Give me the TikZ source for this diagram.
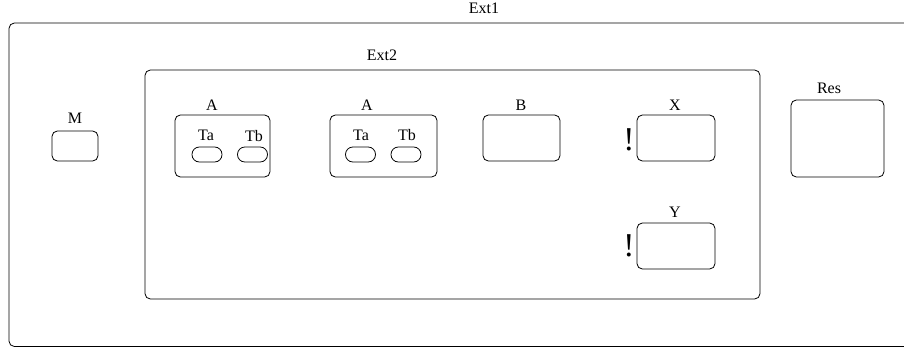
\documentclass[tikz,border=0pt]{standalone}
\usepackage{fontspec}
\setmainfont{Liberation Serif}
\usetikzlibrary{positioning}

\begin{document}
\begin{tikzpicture}[x=0.75pt, y=-0.75pt, line width=0.6pt]
            % Estilos
            \tikzstyle{caixa}=[draw, rectangle, rounded corners=4pt, inner sep=0pt]
            \tikzstyle{oval}=[draw, rectangle, rounded corners=5.5pt, inner sep=0pt, minimum width=22.5pt, minimum height=11.25pt]
            \tikzstyle{rotulo}=[inner sep=0pt, font=\fontsize{12}{14}\selectfont]
            \tikzstyle{excl}=[inner sep=0pt, font=\fontsize{25}{25}\selectfont]

            \useasboundingbox (0,0) rectangle (904,350);
            \clip (0,0) rectangle (904,350);

            % Caixas externas
            \node[caixa, minimum width=677.25pt, minimum height=242.6pt] (ext1) at (460.5,184.75) {};
            \node[rotulo] (lext1) at (484,8) {Ext1};
            \node[caixa, minimum width=461.25pt, minimum height=171.75pt] (ext2) at (452.5,184.5) {};
            \node[rotulo] (lext2) at (382,55) {Ext2};

            % M
            \node[caixa, minimum width=34.5pt, minimum height=22.5pt] (m) at (75,146) {};
            \node[rotulo] (lm) at (75,118) {M};

            % Primeiro A
            \node[caixa, minimum width=71.25pt, minimum height=46.5pt] (a1) at (222.5,146) {};
            \node[rotulo] (la1) at (212,105) {A};
            \node[oval] (ta1) at (207,154.5) {};
            \node[oval] (tb1) at (252.5,154.5) {};
            \node[rotulo] (lta1) at (206,135) {Ta};
            \node[rotulo] (ltb1) at (254,136) {Tb};

            % Segundo A
            \node[caixa, minimum width=80.25pt, minimum height=46.5pt] (a2) at (383.5,146) {};
            \node[rotulo] (la2) at (367,105) {A};
            \node[oval] (ta2) at (360.5,154.5) {};
            \node[oval] (tb2) at (406,154.5) {};
            \node[rotulo] (lta2) at (361,135) {Ta};
            \node[rotulo] (ltb2) at (407,135) {Tb};

            % B, X, Y
            \node[caixa, minimum width=57.75pt, minimum height=34.5pt] (b) at (521.5,138) {};
            \node[rotulo] (lb) at (521,105) {B};
            \node[caixa, minimum width=58.5pt, minimum height=34.5pt] (x) at (676,138) {};
            \node[rotulo] (lx) at (675,105) {X};
            \node[excl] (ex) at (629,140) {!};
            \node[caixa, minimum width=58.5pt, minimum height=34.5pt] (y) at (676,246) {};
            \node[rotulo] (ly) at (675,212) {Y};
            \node[excl] (ey) at (629,246) {!};

            % Res
            \node[caixa, minimum width=69.75pt, minimum height=57.75pt] (res) at (837.5,138.5) {};
            \node[rotulo] (lres) at (829,88) {Res};
\end{tikzpicture}
\end{document}
